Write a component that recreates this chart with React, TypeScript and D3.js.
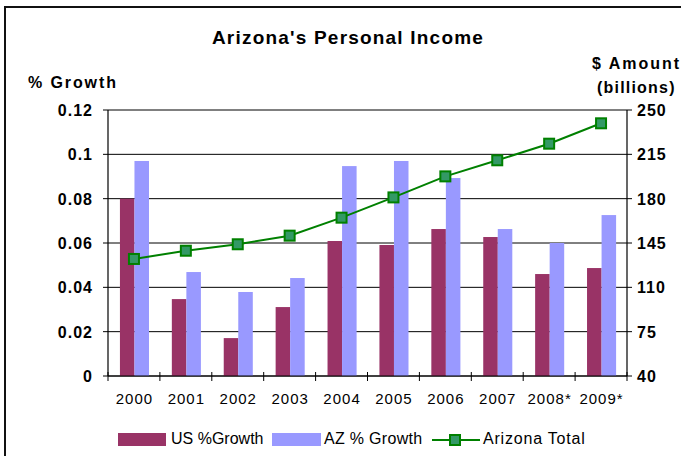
import React from "react";
import * as d3 from "d3";

const years = ["2000", "2001", "2002", "2003", "2004", "2005", "2006", "2007", "2008*", "2009*"];
const usGrowth = [0.080, 0.0347, 0.0171, 0.0311, 0.0609, 0.0591, 0.0663, 0.0627, 0.046, 0.0487];
const azGrowth = [0.097, 0.0469, 0.0379, 0.0442, 0.0947, 0.097, 0.0893, 0.0663, 0.060, 0.0726];
const azTotal = [132.4, 138.9, 144.0, 150.8, 165.0, 181.0, 197.6, 210.3, 223.4, 239.5];
const leftTicks = [0, 0.02, 0.04, 0.06, 0.08, 0.1, 0.12];
const leftTickLabels = ["0", "0.02", "0.04", "0.06", "0.08", "0.1", "0.12"];
const rightTicks = [40, 75, 110, 145, 180, 215, 250];

const US_COLOR = "#993366";
const AZ_COLOR = "#9999FF";
const LINE_COLOR = "#008000";
const MARKER_FILL = "#339966";
const FONT = "'Liberation Sans', Arial, sans-serif";

export default function App() {
  const W = 681, H = 456;
  const left = 108, right = 627, top = 110, bottom = 376;
  const x = d3.scaleBand<string>().domain(years).range([left, right]).padding(0);
  const bw = x.bandwidth();
  const yL = d3.scaleLinear().domain([0, 0.12]).range([bottom, top]);
  const yR = d3.scaleLinear().domain([40, 250]).range([bottom, top]);
  const barW = bw * 0.28;
  const off = bw * 0.23;

  const line = d3
    .line<number>()
    .x((_, i) => (x(years[i]) as number) + bw / 2)
    .y((d) => yR(d));

  const boundaries = d3.range(years.length + 1).map((i) => left + i * bw);

  return (
    <svg
      width={W}
      height={H}
      style={{ position: "absolute", left: 0, top: 0, background: "#fff" }}
      fontFamily={FONT}
    >
      <rect x={0} y={0} width={W} height={H} fill="#fff" />
      <rect x={5} y={7} width={720} height={520} fill="none" stroke="#111" strokeWidth={2} />

      <text x={348} y={44} textAnchor="middle" fontSize={19} fontWeight="bold" letterSpacing={1.2}>
        Arizona's Personal Income
      </text>
      <text x={28} y={88} fontSize={16} fontWeight="bold" letterSpacing={1.9}>
        % Growth
      </text>
      <text x={592} y={69} fontSize={16} fontWeight="bold" letterSpacing={2}>
        $ Amount
      </text>
      <text x={597} y={93} fontSize={16} fontWeight="bold" letterSpacing={1.2}>
        (billions)
      </text>

      {/* gridlines */}
      {leftTicks.map((t) => (
        <line key={"g" + t} x1={left} x2={right} y1={yL(t)} y2={yL(t)} stroke="#000" strokeWidth={1} />
      ))}

      {/* bars */}
      {years.map((yr, i) => (
        <g key={yr}>
          <rect x={(x(yr) as number) + off} y={yL(usGrowth[i])} width={barW} height={bottom - yL(usGrowth[i])} fill={US_COLOR} />
          <rect x={(x(yr) as number) + off + barW} y={yL(azGrowth[i])} width={barW} height={bottom - yL(azGrowth[i])} fill={AZ_COLOR} />
        </g>
      ))}

      {/* axes */}
      <line x1={left} x2={left} y1={top} y2={bottom} stroke="#000" strokeWidth={1.2} />
      <line x1={right} x2={right} y1={top} y2={bottom} stroke="#000" strokeWidth={1.2} />
      <line x1={left} x2={right} y1={bottom} y2={bottom} stroke="#000" strokeWidth={1.2} />
      {leftTicks.map((t, i) => (
        <g key={"lt" + t}>
          <line x1={left - 5} x2={left} y1={yL(t)} y2={yL(t)} stroke="#000" />
          <text x={93} y={yL(t) + 6} textAnchor="end" fontSize={16} fontWeight="bold" letterSpacing={1}>
            {leftTickLabels[i]}
          </text>
        </g>
      ))}
      {rightTicks.map((t) => (
        <g key={"rt" + t}>
          <line x1={right} x2={right + 5} y1={yR(t)} y2={yR(t)} stroke="#000" />
          <text x={637} y={yR(t) + 6} fontSize={16} fontWeight="bold" letterSpacing={1}>
            {t}
          </text>
        </g>
      ))}
      {boundaries.map((b, i) => (
        <line key={"xt" + i} x1={b} x2={b} y1={bottom - 4} y2={bottom + 5} stroke="#000" />
      ))}
      {years.map((yr) => (
        <text key={"xl" + yr} x={(x(yr) as number) + bw / 2 + 0.5} y={404} textAnchor="middle" fontSize={15} letterSpacing={1}>
          {yr}
        </text>
      ))}

      {/* line series */}
      <path d={line(azTotal) as string} fill="none" stroke={LINE_COLOR} strokeWidth={2} />
      {azTotal.map((v, i) => (
        <rect
          key={"m" + i}
          x={(x(years[i]) as number) + bw / 2 - 5}
          y={yR(v) - 5}
          width={10}
          height={10}
          fill={MARKER_FILL}
          stroke={LINE_COLOR}
          strokeWidth={2}
        />
      ))}

      {/* legend */}
      <rect x={118} y={433} width={48} height={13} fill={US_COLOR} />
      <text x={171} y={444} fontSize={16}>US %Growth</text>
      <rect x={272} y={433} width={49} height={13} fill={AZ_COLOR} />
      <text x={324} y={444} fontSize={16} letterSpacing={0.3}>AZ % Growth</text>
      <line x1={432} x2={480} y1={440} y2={440} stroke={LINE_COLOR} strokeWidth={2} />
      <rect x={450} y={435} width={10} height={10} fill={MARKER_FILL} stroke={LINE_COLOR} strokeWidth={2} />
      <text x={483} y={444} fontSize={16} letterSpacing={0.8}>Arizona Total</text>
    </svg>
  );
}
